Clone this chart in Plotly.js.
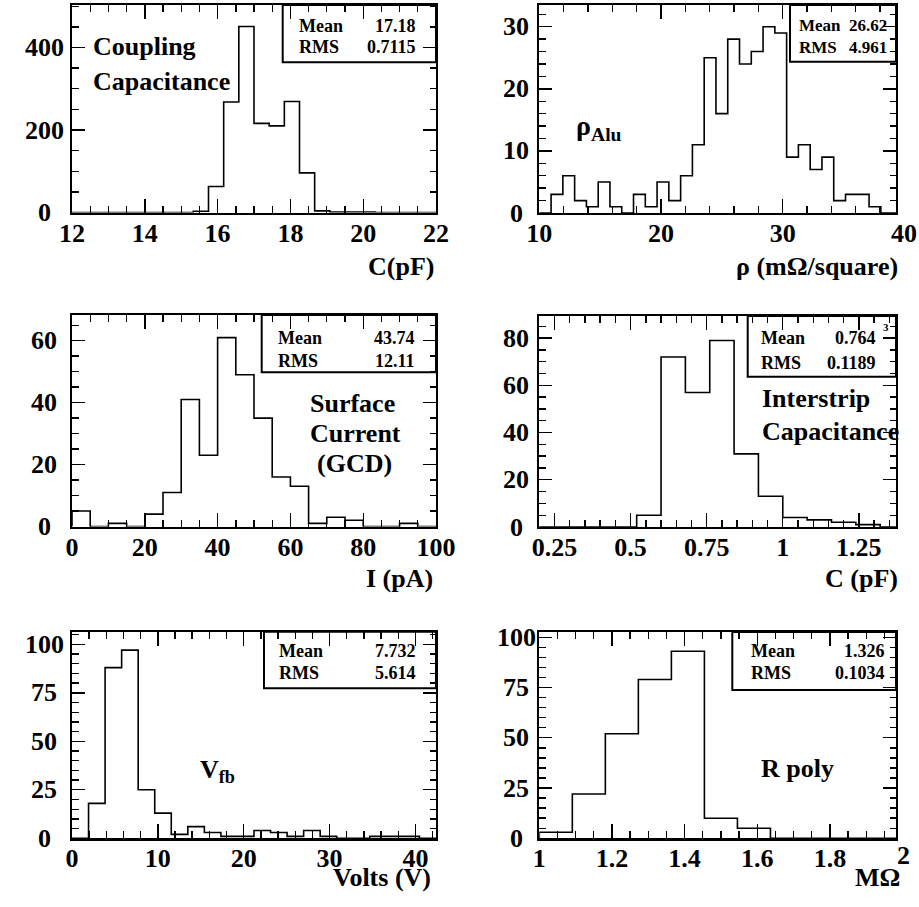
<!DOCTYPE html>
<html>
<head>
<meta charset="utf-8">
<script src="https://cdn.plot.ly/plotly-3.0.1.min.js"></script>
<style>
  html, body { margin: 0; padding: 0; background: #fff; }
  #chart { width: 919px; height: 907px; }
</style>
</head>
<body>
<div id="chart"></div>
<script>
// ---- histogram contents (bin counts) ----
// Coupling capacitance, C (pF): 24 bins over [12, 22]
const couplingBins = [12, 22, 24];
const couplingCounts = [0,0,0,0,0,0,0,0,3,63,268,451,216,210,269,96,4,1,1,1,0,0,0,0];
// Aluminium sheet resistivity (mOhm/square): 31 bins over [10, 40]
const rhoBins = [10, 40, 31];
const rhoCounts = [0,3,6,2,1,5,1,0,3,1,5,2,6,11,25,16,28,24,26,30,29,9,11,7,9,2,3,3,1,0,0];
// Surface current (GCD), I (pA): 20 bins over [0, 100]
const gcdBins = [0, 100, 20];
const gcdCounts = [5,0,1,0,4,11,41,23,61,49,35,16,13,1,3,2,0,0,1,0];
// Interstrip capacitance, C (pF): 15 bins over [0.2, 1.4]
const cintBins = [0.2, 1.4, 15];
const cintCounts = [0,0,0,0,5,72,57,79,31,13,4,3,2,1,0];
// Flat-band voltage (V): 22 bins over [0, 42.4]
const vfbBins = [0, 42.4, 22];
const vfbCounts = [0,18,88,97,25,13,2,6,3,1,1,4,3,1,4,1,0,0,1,1,1,0];
// Polysilicon resistance (MOhm): 11 bins over [1, 2]
const rpolyBins = [1, 2, 11];
const rpolyCounts = [3,22,52,79,93,10,5,0,0,0,0];

// ---- statistics boxes ----
const statMean = ['17.18', '26.62', '43.74', '0.764', '7.732', '1.326'];
const statRMS  = ['0.7115', '4.961', '12.11', '0.1189', '5.614', '0.1034'];

// ---- axis labelling ----
const xTitles = ['C(pF)', 'ρ (mΩ/square)', 'I (pA)', 'C (pF)', 'Volts (V)', 'MΩ'];
const yTickVals = [[0,200,400],[0,10,20,30],[0,20,40,60],[0,20,40,60,80],[0,25,50,75,100],[0,25,50,75,100]];
const cintTickVals = [0.25, 0.5, 0.75, 1, 1.25];
const cintTickText = ['0.25', '0.5', '0.75', '1', '1.25'];

// ---- page geometry (pixels) ----
const W = 919, H = 907;
const px = v => v / W;
const py = v => 1 - v / H;
const FONT = 'Liberation Serif';

const panels = [
  {bins: couplingBins, counts: couplingCounts, l: 72,    r: 436, t: 5,     b: 212.5, xr: [12, 22],      yr: [0, 503],   xd: 2,    xm: 0.5,  yd: 200, ym: 50,
   box: [282.7, 62.3], txt: [297.3, 418.3], rows: [25.8, 47.2], sf: 18, so: -4},
  {bins: rhoBins,      counts: rhoCounts,      l: 539.3, r: 896, t: 5,     b: 213,   xr: [10, 39.31],   yr: [0, 33.5],  xd: 10,   xm: 2,    yd: 10,  ym: 2,
   box: [790, 61.7],   txt: [797, 889.3], rows: [25.8, 47.5], sf: 17, so: -4},
  {bins: gcdBins,      counts: gcdCounts,      l: 72,    r: 436, t: 315,   b: 526.5, xr: [0, 100],      yr: [0, 68.3],  xd: 20,   xm: 5,    yd: 20,  ym: 5,
   box: [261.7, 372.3], txt: [276, 417.3], rows: [337.5, 360.8], sf: 18, so: -4},
  {bins: cintBins,     counts: cintCounts,     l: 539.3, r: 896, t: 316,   b: 527,   xr: [0.2, 1.372],  yr: [0, 89.4],  xd: 0.25, xm: 0.05, yd: 20,  ym: 5,
   box: [747.7, 376.7], txt: [759.3, 878.3], rows: [338, 362.5], sf: 18, so: -4},
  {bins: vfbBins,      counts: vfbCounts,      l: 72,    r: 436, t: 631.7, b: 838.3, xr: [0, 42.4],     yr: [0, 106.5], xd: 10,   xm: 2,    yd: 25,  ym: 5,
   box: [264, 688.3],   txt: [277.3, 418.3], rows: [650.5, 672.5], sf: 18, so: -5},
  {bins: rpolyBins,    counts: rpolyCounts,    l: 539.3, r: 896, t: 632,   b: 838.3, xr: [1, 1.982],    yr: [0, 102.6], xd: 0.2,  xm: 0.05, yd: 25,  ym: 5,
   box: [732.3, 690],   txt: [749.3, 886.7], rows: [650.5, 672.5], sf: 18, so: -5}
];

const traces = [];
const layout = {
  width: W, height: H,
  margin: {l: 0, r: 0, t: 0, b: 0},
  paper_bgcolor: '#ffffff',
  plot_bgcolor: 'rgba(0,0,0,0)',
  showlegend: false,
  shapes: [],
  annotations: []
};

const ann = (x, y, text, size, xanchor, extra) => Object.assign({
  xref: 'paper', yref: 'paper', x: px(x), y: py(y), text: text, showarrow: false,
  xanchor: xanchor, yanchor: 'middle',
  font: {family: FONT, size: size, color: '#000', weight: 'bold'}
}, extra || {});

panels.forEach((p, i) => {
  const n = i + 1;
  const xa = n === 1 ? 'xaxis' : 'xaxis' + n;
  const ya = n === 1 ? 'yaxis' : 'yaxis' + n;
  const xs = n === 1 ? 'x' : 'x' + n;
  const ys = n === 1 ? 'y' : 'y' + n;

  // step outline of the histogram: bin edges from its range and bin count
  const [lo, hi, nb] = p.bins;
  const w = (hi - lo) / nb;
  const xsPts = [lo], ysPts = [0];
  p.counts.forEach((c, k) => { xsPts.push(lo + k * w); ysPts.push(c); });
  xsPts.push(hi); ysPts.push(0);
  traces.push({
    type: 'scatter', mode: 'lines', x: xsPts, y: ysPts,
    xaxis: xs, yaxis: ys,
    line: {shape: 'hv', color: '#000', width: 1.6},
    hoverinfo: 'skip'
  });

  const common = {
    showline: true, linecolor: '#000', linewidth: 2.2, mirror: 'allticks',
    ticks: 'inside', tickcolor: '#000', tickwidth: 1.4,
    showgrid: false, zeroline: false, fixedrange: true
  };
  layout[xa] = Object.assign({}, common, {
    domain: [px(p.l), px(p.r)], range: p.xr, anchor: ys,
    ticklen: 14, tickmode: 'linear', tick0: p.xr[0], dtick: p.xd,
    ticklabelstandoff: p.so,
    tickfont: {family: FONT, size: 26, color: '#000', weight: 'bold'},
    minor: {ticks: 'inside', ticklen: 7, tickwidth: 1.4, tickcolor: '#000', tick0: p.xr[0], dtick: p.xm, showgrid: false}
  });
  layout[ya] = Object.assign({}, common, {
    domain: [py(p.b), py(p.t)], range: p.yr, anchor: xs,
    ticklen: 13, tickmode: 'linear', tick0: 0, dtick: p.yd, showticklabels: false,
    minor: {ticks: 'inside', ticklen: 6.5, tickwidth: 1.4, tickcolor: '#000', tick0: 0, dtick: p.ym, showgrid: false}
  });

  // y tick labels, centred to the left of the frame
  const yLabX = p.l < 300 ? 44 : 516;
  yTickVals[i].forEach(v => {
    layout.annotations.push({
      xref: 'paper', yref: ys, x: px(yLabX), y: v, text: String(v), showarrow: false,
      xanchor: 'center', yanchor: 'middle',
      font: {family: FONT, size: 26, color: '#000', weight: 'bold'}
    });
  });

  // statistics box
  layout.shapes.push({
    type: 'rect', xref: 'paper', yref: 'paper', layer: 'below',
    x0: px(p.box[0]), x1: px(p.r), y0: py(p.box[1]), y1: py(p.t),
    fillcolor: '#ffffff', line: {color: '#000', width: 2}
  });
  layout.annotations.push(ann(p.txt[0], p.rows[0], 'Mean', p.sf, 'left'));
  layout.annotations.push(ann(p.txt[1], p.rows[0], statMean[i], p.sf, 'right'));
  layout.annotations.push(ann(p.txt[0], p.rows[1], 'RMS', p.sf, 'left'));
  layout.annotations.push(ann(p.txt[1], p.rows[1], statRMS[i], p.sf, 'right'));
});

// panel 4 interstrip capacitance ticks at quarter values
Object.assign(layout.xaxis4, {tickmode: 'array', tickvals: cintTickVals, ticktext: cintTickText});

// end labels sitting just past the right edge of the frame
layout.annotations.push(ann(904.4, 233.8, '40', 26, 'center'));
layout.annotations.push(ann(903, 855.5, '2', 26, 'center'));
layout.annotations.push(ann(885.5, 326.5, '3', 11, 'center'));

// axis titles, right-aligned under each frame
const titlePos = [[436, 267], [900, 267], [435, 578], [900, 578], [433, 877], [902, 877]];
xTitles.forEach((t, i) => layout.annotations.push(ann(titlePos[i][0], titlePos[i][1], t, 26, 'right')));

// quantity labels inside the frames
layout.annotations.push(ann(90.7, 46.7, 'Coupling', 26, 'left'));
layout.annotations.push(ann(90.7, 81.7, 'Capacitance', 26, 'left'));
layout.annotations.push(ann(574, 127, 'ρ<sub>Alu</sub>', 28, 'left'));
layout.annotations.push(ann(352, 403, 'Surface', 26, 'center'));
layout.annotations.push(ann(355, 433, 'Current', 26, 'center'));
layout.annotations.push(ann(354, 463, '(GCD)', 26, 'center'));
layout.annotations.push(ann(760, 399, 'Interstrip', 26, 'left'));
layout.annotations.push(ann(760, 431.7, 'Capacitance', 26, 'left'));
layout.annotations.push(ann(198, 771, 'V<sub>fb</sub>', 26, 'left'));
layout.annotations.push(ann(759, 768, 'R poly', 26, 'left'));

Plotly.newPlot('chart', traces, layout, {staticPlot: true, displayModeBar: false});
</script>
</body>
</html>
